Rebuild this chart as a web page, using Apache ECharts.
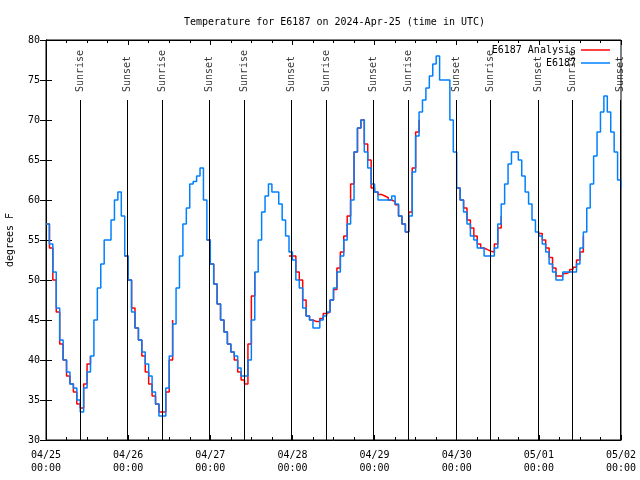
<!DOCTYPE html>
<html><head><meta charset="utf-8">
<script src="https://cdn.jsdelivr.net/npm/echarts@6/dist/echarts.min.js"></script>
<style>html,body{margin:0;padding:0;background:#fff}#c{width:640px;height:480px}</style>
</head><body><div id="c"></div>
<script>
const FONT = 'DejaVu Sans Mono';
const titleText = 'Temperature for E6187 on 2024-Apr-25 (time in UTC)';
const yAxisName = 'degrees F';
const xTickLabels = ['04/25\n00:00','04/26\n00:00','04/27\n00:00','04/28\n00:00','04/29\n00:00','04/30\n00:00','05/01\n00:00','05/02\n00:00'];
const obsName = 'E6187';
const anaName = 'E6187 Analysis';

// Observed temperature, hourly from 04/25 00:00 UTC
const obsApr25 = [57,54.5,51,46.5,42.5,40,38.5,37,36.5,35,33.5,36.5,38.5,40.5,45,49,52,55,55,57.5,60,61,58,53];
const obsApr26 = [50,46,44,42.5,41,39.5,38,36,34.5,33,33,36.5,40.5,44.5,49,53,57,59,62,62.3,63,64,60,55];
const obsApr27 = [52,49.5,47,45,43.5,42,41,40.5,39,38,38,40,45,51,55,58.5,60.5,62,61,61,59.5,57.5,55.5,53.5];
const obsApr28 = [52.5,50,49,46.5,45.5,45,44,44,45,45.5,46,47.5,49,51,53,55,57,60,66,69,70,66,64,62];
const obsApr29 = [61,60,60,60,60,60.5,59.5,58,57,56,58,63.5,68,71,72.5,74,75.5,77,78,75,75,75,70,66];
const obsApr30 = [61.5,60,58.5,57,55.5,55,54,54,53,53,53,54,57,59.5,62,64.5,66,66,65,63,61,59.5,57.5,56];
const obsMay01 = [55.5,54.5,53.5,52,51,50,50,51,51,51,51,52,54,56,59,62,65.5,68.5,71,73,71,68.5,66,62.5];
const obsMay02 = [61.5];

// Analysis temperature segments (start hour since 04/25 00:00, hourly values)
const anaStart1 = 0;
const anaNight1 = [57,54,50,46,42,40,38,37,36,34.5,34,37,39.5,40.5];
const anaStart2 = 23;
const anaNight2 = [53,50,46.5,44,42.5,40.5,38.5,37,35.5,34.5,33.5,33.5,36,40,45];
const anaStart3 = 47;
const anaNight3 = [55,52,49.5,47,45,43.5,42,41,40,38.5,37.5,37,42,48,51];
const anaStart4 = 71;
const anaNight4 = [53,53,51,50,47.5,45.5,45,44.8,44.8,45.2,45.8,46,47.5,48.8,51.5,53.5,55.5,58,62,66,69,70,67,65,61.5,61,60.7,60.5,60.3,60,59.8,59.4,58,57,56,58.5,64,68.5,70];
const anaStart5 = 120;
const anaNight5 = [61.5,60,59,57.5,56.5,55.5,54.5,54,53.8,53.6,53.5,54.5,56.5,58];
const anaStart6 = 144;
const anaNight6 = [55.8,55,54,52.8,51.5,50.5,50.5,50.8,51,51.3,51.6,52.5,53.5,55.5];

// Sunrise / sunset, hours since 04/25 00:00 UTC
const sunriseHours = [10.02, 33.98, 57.94, 81.9, 105.86, 129.82, 153.9];
const sunsetHours = [23.75, 47.71, 71.67, 95.63, 119.88, 143.84, 167.9];

const observed = [].concat(obsApr25, obsApr26, obsApr27, obsApr28, obsApr29, obsApr30, obsMay01, obsMay02);
const obsData = observed.map((v, i) => [i, v]);
const anaSegments = [[anaStart1, anaNight1],[anaStart2, anaNight2],[anaStart3, anaNight3],[anaStart4, anaNight4],[anaStart5, anaNight5],[anaStart6, anaNight6]];

const events = [];
sunriseHours.forEach(h => events.push({ t: h, name: 'Sunrise' }));
sunsetHours.forEach(h => events.push({ t: h, name: 'Sunset' }));
const lineTop = 72.5;

const chart = echarts.init(document.getElementById('c'), null, { renderer: 'canvas' });
const axisCommon = { lineStyle: { color: '#000', width: 1 } };

const anaSeries = anaSegments.map(([s, arr]) => ({
  name: anaName, type: 'line', step: 'end', symbol: 'none', showSymbol: false,
  data: arr.map((v, j) => [s + j, v]),
  lineStyle: { color: '#ff0000', width: 1.5 }, itemStyle: { color: '#ff0000' }
}));

chart.setOption({
  animation: false,
  backgroundColor: '#fff',
  textStyle: { fontFamily: FONT },
  title: { text: titleText, left: 179, top: 12, textStyle: { fontFamily: FONT, fontSize: 10, fontWeight: 'normal', color: '#000' } },
  legend: {
    data: [{ name: anaName, icon: 'rect', itemStyle: { color: '#ff0000' } }, { name: obsName, icon: 'rect', itemStyle: { color: '#0080ff' } }],
    orient: 'vertical', right: 25, top: 40, align: 'right',
    itemWidth: 29, itemHeight: 1.5, itemGap: 3,
    textStyle: { fontFamily: FONT, fontSize: 10, color: '#000' }
  },
  grid: { left: 46, right: 19, top: 40, bottom: 40, show: true, borderColor: '#000', borderWidth: 1, containLabel: false, outerBoundsMode: 'none' },
  xAxis: [{
    type: 'value', min: 0, max: 168, interval: 24, position: 'bottom',
    axisLine: { show: true, ...axisCommon },
    axisTick: { show: true, inside: true, length: 5, ...axisCommon },
    minorTick: { show: true, splitNumber: 4, length: 3, ...axisCommon },
    splitLine: { show: false },
    axisLabel: { show: true, margin: 9, lineHeight: 13, fontFamily: FONT, fontSize: 10, color: '#000', showMinLabel: true, showMaxLabel: true,
      formatter: v => xTickLabels[Math.round(v / 24)] }
  }, {
    type: 'value', min: 0, max: 168, interval: 24, position: 'top',
    axisLine: { show: true, ...axisCommon },
    axisTick: { show: true, inside: true, length: 5, ...axisCommon },
    minorTick: { show: true, splitNumber: 4, length: 3, ...axisCommon },
    splitLine: { show: false }, axisLabel: { show: false }
  }],
  yAxis: [{
    type: 'value', min: 30, max: 80, interval: 5, position: 'left',
    name: yAxisName, nameLocation: 'middle', nameRotate: 90, nameGap: 31,
    nameTextStyle: { fontFamily: FONT, fontSize: 10, color: '#000' },
    axisLine: { show: true, ...axisCommon },
    axisTick: { show: true, inside: true, length: 6, ...axisCommon },
    splitLine: { show: false },
    axisLabel: { margin: 6, fontFamily: FONT, fontSize: 10, color: '#000' }
  }, {
    type: 'value', min: 30, max: 80, interval: 5, position: 'right',
    axisLine: { show: true, ...axisCommon },
    axisTick: { show: true, inside: true, length: 6, ...axisCommon },
    splitLine: { show: false }, axisLabel: { show: false }
  }],
  series: [{
    type: 'scatter', symbolSize: 0, silent: true,
    data: events.map(e => ({ value: [e.t, lineTop], name: e.name })),
    label: { show: true, formatter: p => p.name, position: 'top', distance: 8, rotate: 90, align: 'left', verticalAlign: 'middle',
      fontFamily: FONT, fontSize: 10, color: '#000' },
    markLine: {
      silent: true, symbol: ['none', 'none'], animation: false,
      label: { show: false },
      lineStyle: { color: '#000', width: 1, type: 'solid' },
      data: events.map(e => [{ coord: [e.t, 30] }, { coord: [e.t, lineTop] }])
    }
  }].concat(anaSeries, [{
    name: obsName, type: 'line', step: 'end', symbol: 'none', showSymbol: false,
    data: obsData, lineStyle: { color: '#0080ff', width: 1.5 }, itemStyle: { color: '#0080ff' }
  }])
});
</script></body></html>
